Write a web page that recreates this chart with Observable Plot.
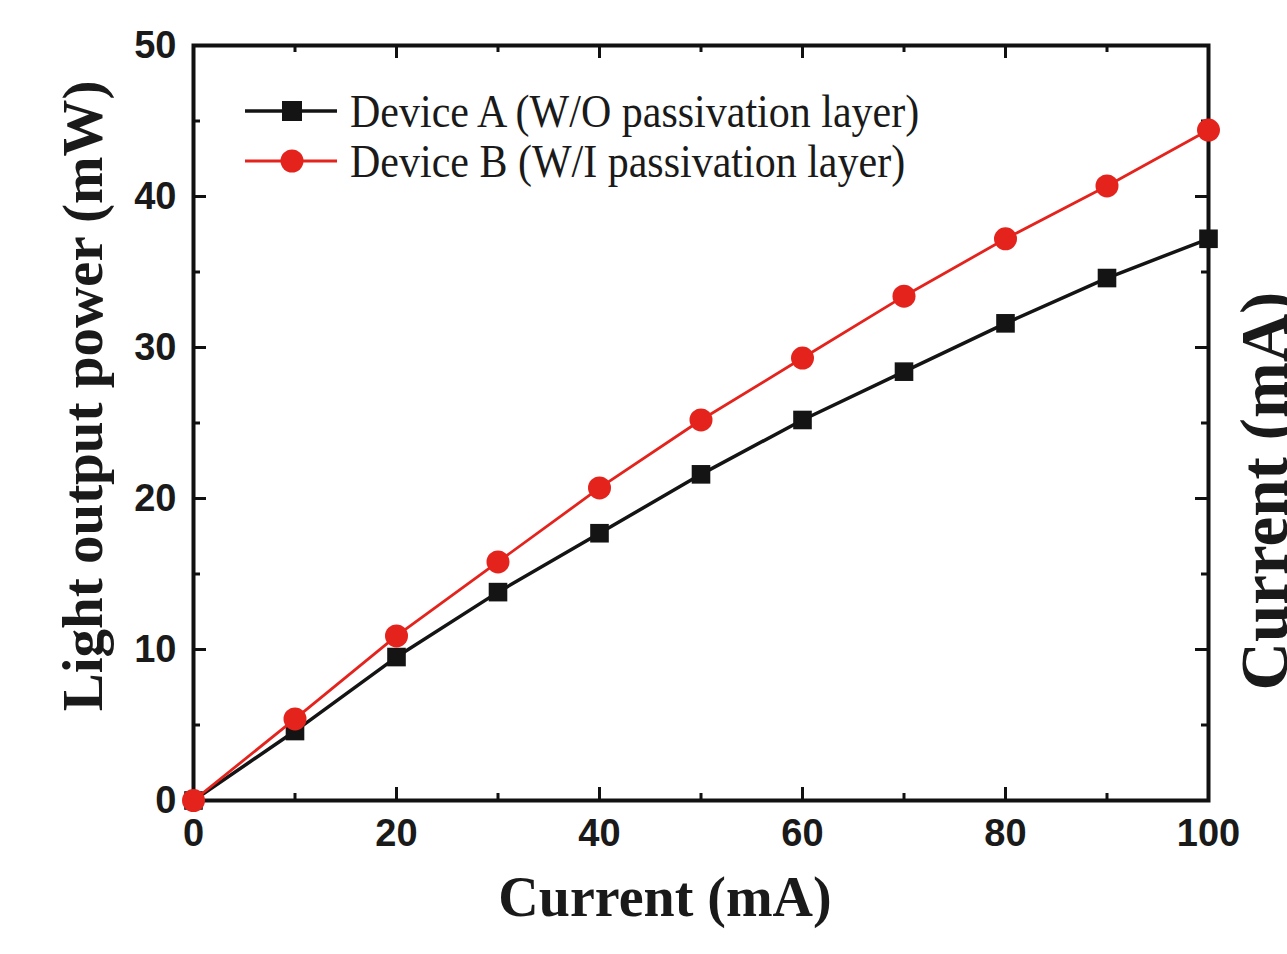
<!DOCTYPE html>
<html>
<head>
<meta charset="utf-8">
<script src="https://cdn.jsdelivr.net/npm/d3@7"></script>
<script src="https://cdn.jsdelivr.net/npm/@observablehq/plot@0.6"></script>
<style>
  html, body { margin: 0; padding: 0; background: #fff; }
  #wrap { position: relative; width: 1287px; height: 954px; overflow: hidden; }
  #legend { position: absolute; left: 245px; top: 86px; font-family: "Liberation Serif", "Times New Roman", serif; font-size: 42px; color: #1a1a1a; }
  .row { display: flex; align-items: center; height: 50px; }
  .row svg { margin-right: 13px; }
  .row span { display: inline-block; transform: scaleY(1.12); line-height: 1; }
</style>
</head>
<body>
<div id="wrap"></div>
<script>
// ---- data ----
const current = [0, 10, 20, 30, 40, 50, 60, 70, 80, 90, 100];
const powerA = [0, 4.6, 9.5, 13.8, 17.7, 21.6, 25.2, 28.4, 31.6, 34.6, 37.2];
const powerB = [0, 5.4, 10.9, 15.8, 20.7, 25.2, 29.3, 33.4, 37.2, 40.7, 44.4];
const seriesNames = ["Device A (W/O passivation layer)", "Device B (W/I passivation layer)"];
const seriesColors = ["#141414", "#e5231d"];
const xTickLabels = [0, 20, 40, 60, 80, 100];
const xMinor = [10, 30, 50, 70, 90];
const yTickLabels = [0, 10, 20, 30, 40, 50];
const yMinor = [5, 15, 25, 35, 45];
const xTitle = "Current (mA)";
const yTitle = "Light output power (mW)";
const y2Title = "Current (mA)";

const dataA = current.map((c, i) => ({current: c, power: powerA[i]}));
const dataB = current.map((c, i) => ({current: c, power: powerB[i]}));

const W = 1287, H = 954;
const mL = 193, mR = 79, mT = 45, mB = 154;
const innerW = W - mL - mR, innerH = H - mT - mB;
const majorLen = 13, minorLen = 7, tickW = 3;
const tickFont = {fontFamily: "Liberation Sans, Arial, sans-serif", fontWeight: "bold", fontSize: 38, fill: "#1a1a1a"};
const titleFont = {fontFamily: "Liberation Serif, Times New Roman, serif", fontWeight: "bold", fill: "#1a1a1a"};

const chart = Plot.plot({
  width: W, height: H,
  marginLeft: mL, marginRight: mR, marginTop: mT, marginBottom: mB,
  x: {domain: [0, 100]},
  y: {domain: [0, 50]},
  style: {background: "white"},
  marks: [
    // inward ticks, bottom / top
    Plot.tickX(xTickLabels, {x: d => d, insetTop: innerH - majorLen, strokeWidth: tickW, stroke: "#111"}),
    Plot.tickX(xMinor, {x: d => d, insetTop: innerH - minorLen, strokeWidth: tickW, stroke: "#111"}),
    Plot.tickX(xTickLabels, {x: d => d, insetBottom: innerH - majorLen, strokeWidth: tickW, stroke: "#111"}),
    Plot.tickX(xMinor, {x: d => d, insetBottom: innerH - minorLen, strokeWidth: tickW, stroke: "#111"}),
    // inward ticks, left / right
    Plot.tickY(yTickLabels, {y: d => d, insetRight: innerW - majorLen, strokeWidth: tickW, stroke: "#111"}),
    Plot.tickY(yMinor, {y: d => d, insetRight: innerW - minorLen, strokeWidth: tickW, stroke: "#111"}),
    Plot.tickY(yTickLabels, {y: d => d, insetLeft: innerW - majorLen, strokeWidth: tickW, stroke: "#111"}),
    Plot.tickY(yMinor, {y: d => d, insetLeft: innerW - minorLen, strokeWidth: tickW, stroke: "#111"}),
    Plot.frame({stroke: "#111", strokeWidth: 4}),
    Plot.axisX({ticks: xTickLabels, tickSize: 0, tickPadding: 19, label: null, ...tickFont}),
    Plot.axisY({ticks: yTickLabels, tickSize: 0, tickPadding: 17, label: null, ...tickFont}),
    // series A
    Plot.line(dataA, {x: "current", y: "power", stroke: seriesColors[0], strokeWidth: 3.5}),
    Plot.dot(dataA, {x: "current", y: "power", symbol: "square", r: 10.5, fill: seriesColors[0], stroke: "none"}),
    // series B
    Plot.line(dataB, {x: "current", y: "power", stroke: seriesColors[1], strokeWidth: 2.8}),
    Plot.dot(dataB, {x: "current", y: "power", symbol: "circle", r: 11.5, fill: seriesColors[1], stroke: "none"}),
    // titles
    Plot.text([xTitle], {text: d => d, frameAnchor: "bottom", dx: -36, dy: 115, lineAnchor: "bottom", fontSize: 56, ...titleFont}),
    Plot.text([yTitle], {text: d => d, frameAnchor: "left", textAnchor: "middle", rotate: -90, dx: -92, dy: -27, lineAnchor: "bottom", fontSize: 57, ...titleFont}),
    Plot.text([y2Title], {text: d => d, frameAnchor: "right", textAnchor: "middle", rotate: -90, dx: 78, dy: 68, lineAnchor: "bottom", fontSize: 67, ...titleFont})
  ]
});

const wrap = document.getElementById("wrap");
wrap.appendChild(chart);

// legend
const legend = document.createElement("div");
legend.id = "legend";
const shapes = ["square", "circle"];
seriesNames.forEach((name, i) => {
  const row = document.createElement("div");
  row.className = "row";
  const marker = shapes[i] === "square"
    ? `<rect x="37" y="5" width="20" height="20" fill="${seriesColors[i]}"/>`
    : `<circle cx="47" cy="15" r="11.5" fill="${seriesColors[i]}"/>`;
  row.innerHTML = `<svg width="92" height="30"><line x1="0" x2="92" y1="15" y2="15" stroke="${seriesColors[i]}" stroke-width="${i === 0 ? 3.5 : 3}"/>${marker}</svg><span>${name}</span>`;
  legend.appendChild(row);
});
wrap.appendChild(legend);
</script>
</body>
</html>
